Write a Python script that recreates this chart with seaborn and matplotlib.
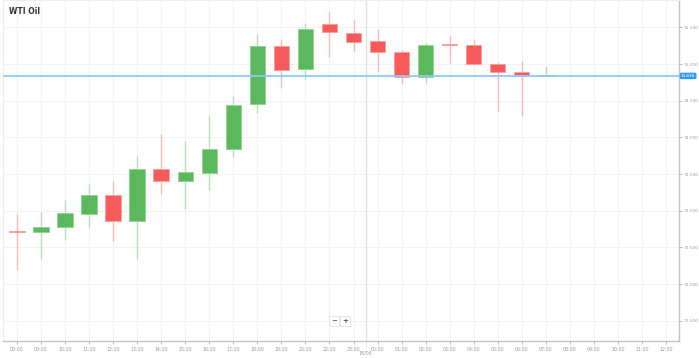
import numpy as np
import pandas as pd
import matplotlib
matplotlib.use("Agg")
import matplotlib.pyplot as plt
import seaborn as sns

# hourly candles, 21:00 is not traded
labels = ["08:00", "09:00", "10:00", "11:00", "12:00", "13:00", "14:00", "15:00",
          "16:00", "17:00", "18:00", "19:00", "20:00", "22:00", "23:00", "00:00",
          "01:00", "02:00", "03:00", "04:00", "05:00", "06:00", "07:00", "08:00",
          "09:00", "10:00", "11:00", "12:00"]
opens = [72.725, 72.707, 72.779, 72.956, 73.211, 72.857, 73.565, 73.406,
         73.519, 73.838, 74.455, 75.245, 74.928, 75.541, 75.426, 75.309,
         75.163, 74.827, 75.262, 75.259, 75.004, 74.891, 74.835]
highs = [72.952, 72.988, 73.147, 73.365, 73.406, 73.747, 74.042, 73.955,
         74.305, 74.564, 75.405, 75.345, 75.563, 75.704, 75.599, 75.473,
         75.191, 75.282, 75.381, 75.327, 75.027, 75.045, 74.973]
lows = [72.193, 72.347, 72.602, 72.770, 72.593, 72.343, 73.225, 73.020,
        73.283, 73.729, 74.328, 74.677, 74.800, 75.091, 75.177, 74.887,
        74.723, 74.737, 75.009, 74.990, 74.350, 74.296, 74.835]
closes = [72.710, 72.783, 72.966, 73.211, 72.857, 73.565, 73.406, 73.524,
          73.842, 74.446, 75.245, 74.922, 75.473, 75.436, 75.300, 75.168,
          74.823, 75.255, 75.255, 74.996, 74.887, 74.854, 74.838]
last_price = 74.838
y_ticks = [71.5, 72.0, 72.5, 73.0, 73.5, 74.0, 74.5, 75.0, 75.5]

df = pd.DataFrame({"open": opens, "high": highs, "low": lows, "close": closes})
df["x"] = np.arange(len(df))
df["up"] = df["close"] >= df["open"]

sns.set_theme(style="white")
plt.rcParams["font.family"] = ["DejaVu Sans"]

fig = plt.figure(figsize=(6.99, 3.58), dpi=100)
ax = fig.add_axes([3 / 699, 17 / 358, 676 / 699, 341 / 358])

green, red = "#5cb85c", "#f65a5a"
green_edge, red_edge = "#8ed38e", "#fa9c9c"
green_wick, red_wick = "#b9ddb9", "#f7b8b8"

# grid
for i in range(len(labels)):
    ax.axvline(i, color="#f3f3f3", lw=0.8, zorder=0)
for v in y_ticks:
    ax.axhline(v, color="#f3f3f3", lw=0.8, zorder=0)

# day separator between 23:00 and 00:00
ax.axvline(14.5, color="#e2e2e2", lw=1.0, zorder=0.5)

# wicks
for _, r in df.iterrows():
    ax.vlines(r["x"], r["low"], r["high"],
              color=green_wick if r["up"] else red_wick, lw=1.0, zorder=1)

# bodies
bottoms = np.minimum(df["open"], df["close"])
heights = np.maximum((df["close"] - df["open"]).abs(), 0.02)
ax.bar(df["x"], heights, bottom=bottoms, width=0.64,
       color=[green if u else red for u in df["up"]],
       edgecolor=[green_edge if u else red_edge for u in df["up"]],
       linewidth=0.6, zorder=2)

# last price line
ax.axhline(last_price, color="#90c8f2", lw=1.3, zorder=3)
ax.text(1.003, last_price, f"{last_price:.3f}", transform=ax.get_yaxis_transform(),
        ha="left", va="center", fontsize=3.0, color="white", clip_on=False,
        bbox=dict(boxstyle="round,pad=0.3,rounding_size=0.3", fc="#2d9cf0", ec="none"))

ax.set_xlim(-0.58, 27.54)
ax.set_ylim(71.226, 75.872)

ax.set_xticks(range(len(labels)))
ax.set_xticklabels(labels)
ax.set_yticks(y_ticks)
ax.set_yticklabels([f"{v:.3f}" for v in y_ticks])
ax.yaxis.tick_right()
ax.tick_params(axis="x", labelsize=3.4, colors="#9a9a9a", length=2, width=0.5,
               pad=2, bottom=True)
ax.tick_params(axis="y", labelsize=3.1, colors="#9a9a9a", length=2, width=0.5,
               pad=1, right=True, left=False)

for side in ["top", "left"]:
    ax.spines[side].set_color("#eeeeee")
    ax.spines[side].set_linewidth(0.8)
for side in ["bottom", "right"]:
    ax.spines[side].set_color("#c4c4c4")
    ax.spines[side].set_linewidth(1.0)

ax.text(14.5, -0.034, "18/06", transform=ax.get_xaxis_transform(), ha="center",
        va="center", fontsize=3.4, color="#9a9a9a", clip_on=False)
ax.plot([14.5, 14.5], [-0.004, -0.022], transform=ax.get_xaxis_transform(),
        color="#bbbbbb", lw=0.5, ls=":", clip_on=False)

fig.text(9 / 699, 1 - 11 / 358, "WTI Oil", fontsize=5.5, fontweight="bold",
         color="#333333", ha="left", va="center")

# zoom buttons
for xc, s in [(334, "\u2212"), (345, "+")]:
    fig.text(xc / 699, 1 - 321 / 358, s, fontsize=5, color="#555555", ha="center",
             va="center", fontweight="bold",
             bbox=dict(boxstyle="square,pad=0.3", fc="white", ec="#dddddd", lw=0.5))

fig.savefig("out.png", dpi=100, facecolor="white")
